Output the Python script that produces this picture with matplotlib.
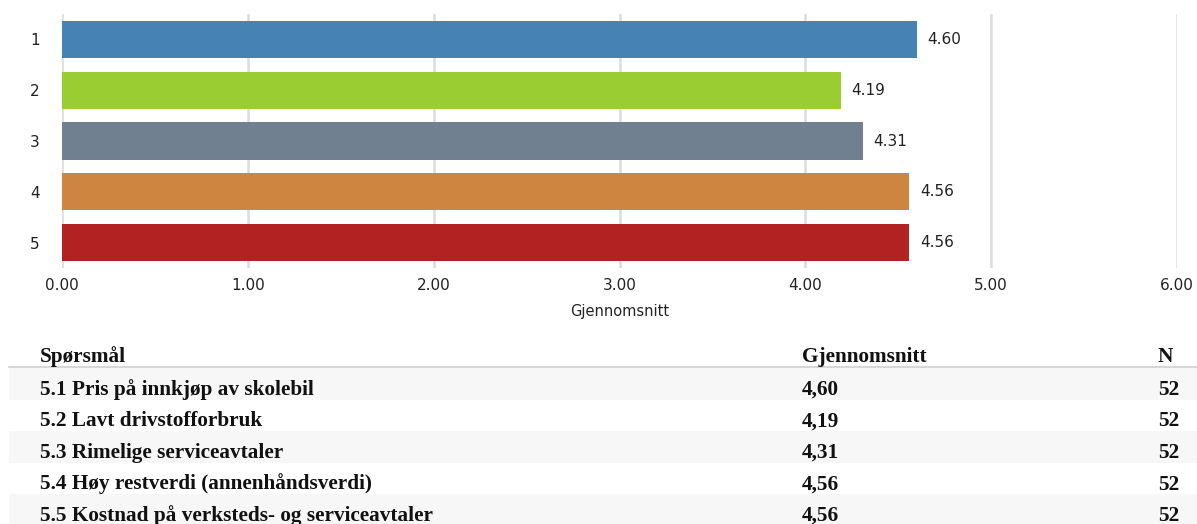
import matplotlib.pyplot as plt
from matplotlib.patches import Rectangle

plt.rcParams["font.family"] = ["DejaVu Sans"]

# data
bar_labels = ["1", "2", "3", "4", "5"]
means = [4.60, 4.19, 4.31, 4.56, 4.56]
bar_colors = ["#4682B4", "#9ACD32", "#708090", "#CD853F", "#B22222"]
questions = [
    "5.1 Pris på innkjøp av skolebil",
    "5.2 Lavt drivstofforbruk",
    "5.3 Rimelige serviceavtaler",
    "5.4 Høy restverdi (annenhåndsverdi)",
    "5.5 Kostnad på verksteds- og serviceavtaler",
]
counts = [52, 52, 52, 52, 52]
header = ["Spørsmål", "Gjennomsnitt", "N"]
x_ticks = [0, 1, 2, 3, 4, 5, 6]

W, H = 1197, 524
fig = plt.figure(figsize=(W / 100, H / 100), dpi=100)

# bar chart
ax = fig.add_axes([62 / W, 1 - 268 / H, (1177 - 62) / W, (268 - 14) / H])
ypos = list(range(len(means)))
bars = ax.barh(ypos, means, height=0.73, color=bar_colors, zorder=2)
ax.set_xlim(0, 6)
ax.set_ylim(len(means) - 0.5, -0.5)
ax.set_xticks(x_ticks)
ax.set_xticklabels([f"{t:.2f}" for t in x_ticks])
ax.set_yticks(ypos)
ax.set_yticklabels(bar_labels)
ax.tick_params(axis="both", length=0, labelsize=11, colors="#222222")
ax.tick_params(axis="x", pad=7)
ax.tick_params(axis="y", pad=16)
ax.grid(axis="x", color="#dcdcdc", linewidth=1.8, zorder=0)
ax.set_axisbelow(True)
for s in ax.spines.values():
    s.set_visible(False)
ax.set_xlabel("Gjennomsnitt", fontsize=10.5, color="#222222", labelpad=8)
for rect, v in zip(bars, means):
    ax.annotate(f"{v:.2f}", (v, rect.get_y() + rect.get_height() / 2),
                xytext=(7.5, 0), textcoords="offset points",
                va="center", ha="left", fontsize=11, color="#222222")

# table below the chart
serif = dict(family="Liberation Serif", fontweight="bold", fontsize=15.3, color="#111111")
col_x = [40, 802, 1158]
row_h = 31.5
line_y = 367
fig.add_artist(plt.Line2D([9 / W, 1], [1 - line_y / H] * 2, color="#d0d0d0", linewidth=1.2))
for i in range(len(questions)):
    top = line_y + 1 + i * row_h
    if i % 2 == 0:
        fig.add_artist(Rectangle((9 / W, 1 - (top + row_h) / H), 1 - 9 / W, row_h / H,
                                 facecolor="#f7f7f7", edgecolor="none", zorder=0))

fig.text(col_x[0] / W, 1 - 362 / H, header[0], va="baseline", **serif)
fig.text(col_x[1] / W, 1 - 362 / H, header[1], va="baseline", **serif)
fig.text(col_x[2] / W, 1 - 362 / H, header[2], va="baseline", **serif)
for i, (q, m, n) in enumerate(zip(questions, means, counts)):
    base = 395 + i * row_h
    fig.text(col_x[0] / W, 1 - base / H, q, va="baseline", **serif)
    fig.text(col_x[1] / W, 1 - base / H, f"{m:.2f}".replace(".", ","), va="baseline", **serif)
    fig.text(col_x[2] / W, 1 - base / H, str(n), va="baseline", **serif)

fig.savefig("out.png", dpi=100)
